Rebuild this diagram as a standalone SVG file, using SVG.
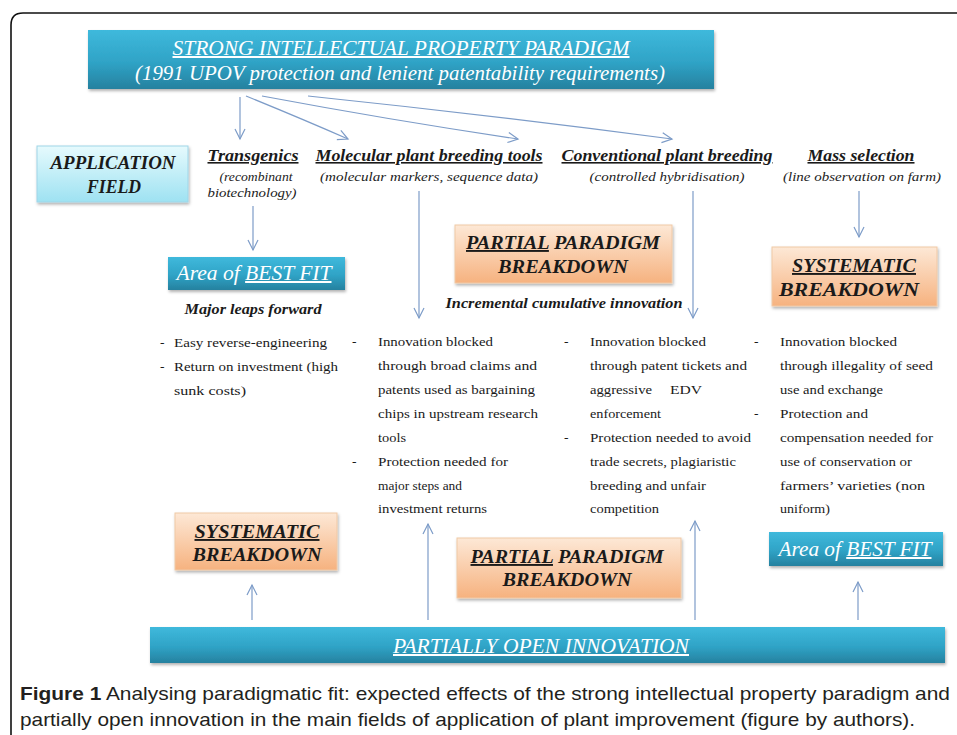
<svg xmlns="http://www.w3.org/2000/svg" width="957" height="735" viewBox="0 0 957 735">
<defs>
<linearGradient id="gBlue" x1="0" y1="0" x2="0" y2="1">
<stop offset="0" stop-color="#3fb9dc"/>
<stop offset="0.55" stop-color="#2fa3c6"/>
<stop offset="1" stop-color="#26819f"/>
</linearGradient>
<linearGradient id="gCyan" x1="0" y1="0" x2="0" y2="1">
<stop offset="0" stop-color="#e6fafd"/>
<stop offset="1" stop-color="#9ee2f2"/>
</linearGradient>
<linearGradient id="gOrange" x1="0" y1="0" x2="0" y2="1">
<stop offset="0" stop-color="#fde8d6"/>
<stop offset="1" stop-color="#f6b27f"/>
</linearGradient>
<filter id="sh" x="-5%" y="-10%" width="110%" height="130%">
<feDropShadow dx="1" dy="2" stdDeviation="1.5" flood-color="#000" flood-opacity="0.3"/>
</filter>
<marker id="ah" markerWidth="14" markerHeight="14" refX="12" refY="7" orient="auto" markerUnits="userSpaceOnUse">
<path d="M2,2 L12,7 L2,12" fill="none" stroke="#7d9cc8" stroke-width="1.2"/>
</marker>
<style>
.blue{fill:url(#gBlue);filter:url(#sh);}
.cyan{fill:url(#gCyan);stroke:#9fd6e8;stroke-width:1;filter:url(#sh);}
.orange{fill:url(#gOrange);stroke:#f0c9a6;stroke-width:1;filter:url(#sh);}
.wt{font-family:"Liberation Serif",serif;font-style:italic;fill:#fff;font-size:20px;}
.bh{font-family:"Liberation Serif",serif;font-style:italic;font-weight:bold;fill:#1a1a1a;}
.sub{font-family:"Liberation Serif",serif;font-style:italic;fill:#222;font-size:13px;}
.bd{font-family:"Liberation Serif",serif;fill:#1a1a1a;font-size:13.5px;}
.cap{font-family:"Liberation Sans",sans-serif;fill:#231f20;font-size:19px;}
.con{stroke:#7d9cc8;stroke-width:1.2;fill:none;}
</style>
</defs>
<rect width="957" height="735" fill="#fff"/>
<path d="M11,760 L11,25 Q11,13 23,13 L980,13" fill="none" stroke="#111" stroke-width="1.6"/>

<g id="connectors">
<line class="con" x1="240" y1="97" x2="240" y2="139" marker-end="url(#ah)"/>
<path class="con" d="M246,96 Q300,118 348,139" marker-end="url(#ah)"/>
<path class="con" d="M262,96 Q390,120 518,139" marker-end="url(#ah)"/>
<path class="con" d="M308,96 Q490,115 672,139" marker-end="url(#ah)"/>
<line class="con" x1="253" y1="206" x2="253" y2="250" marker-end="url(#ah)"/>
<line class="con" x1="419" y1="191" x2="419" y2="318" marker-end="url(#ah)"/>
<line class="con" x1="693" y1="191" x2="693" y2="318" marker-end="url(#ah)"/>
<line class="con" x1="859" y1="191" x2="859" y2="237" marker-end="url(#ah)"/>
<line class="con" x1="252" y1="620" x2="252" y2="585" marker-end="url(#ah)"/>
<line class="con" x1="428" y1="620" x2="428" y2="524" marker-end="url(#ah)"/>
<line class="con" x1="695" y1="620" x2="695" y2="521" marker-end="url(#ah)"/>
<line class="con" x1="858" y1="620" x2="858" y2="582" marker-end="url(#ah)"/>
</g>

<g id="strong-ip">
<rect class="blue" x="88" y="30" width="626" height="59"/>
<text class="wt" x="401" y="55" text-anchor="middle" text-decoration="underline" textLength="457" lengthAdjust="spacingAndGlyphs">STRONG INTELLECTUAL PROPERTY PARADIGM</text>
<text class="wt" x="400" y="80" text-anchor="middle" textLength="530" lengthAdjust="spacingAndGlyphs">(1991 UPOV  protection  and lenient patentability requirements)</text>
</g>

<g id="application-field">
<rect class="cyan" x="37" y="146" width="151" height="56"/>
<text class="bh" x="113" y="169" font-size="18" text-anchor="middle" textLength="125" lengthAdjust="spacingAndGlyphs">APPLICATION</text>
<text class="bh" x="114" y="193" font-size="18" text-anchor="middle" textLength="54" lengthAdjust="spacingAndGlyphs">FIELD</text>
</g>

<g id="transgenics">
<text class="bh" x="253" y="161" font-size="16" text-anchor="middle" text-decoration="underline" textLength="91" lengthAdjust="spacingAndGlyphs">Transgenics</text>
<text class="sub" x="256" y="181" text-anchor="middle" textLength="73" lengthAdjust="spacingAndGlyphs">(recombinant</text>
<text class="sub" x="252" y="197" text-anchor="middle" textLength="89" lengthAdjust="spacingAndGlyphs">biotechnology)</text>
</g>

<g id="molecular">
<text class="bh" x="429" y="161" font-size="16" text-anchor="middle" text-decoration="underline" textLength="227" lengthAdjust="spacingAndGlyphs">Molecular plant breeding tools</text>
<text class="sub" x="429" y="181" text-anchor="middle" textLength="218" lengthAdjust="spacingAndGlyphs">(molecular markers, sequence data)</text>
</g>

<g id="conventional">
<text class="bh" x="667" y="161" font-size="16" text-anchor="middle" text-decoration="underline" textLength="211" lengthAdjust="spacingAndGlyphs">Conventional plant breeding</text>
<text class="sub" x="667" y="181" text-anchor="middle" textLength="155" lengthAdjust="spacingAndGlyphs">(controlled  hybridisation)</text>
</g>

<g id="mass-selection">
<text class="bh" x="861" y="161" font-size="16" text-anchor="middle" text-decoration="underline" textLength="107" lengthAdjust="spacingAndGlyphs">Mass selection</text>
<text class="sub" x="862" y="181" text-anchor="middle" textLength="158" lengthAdjust="spacingAndGlyphs">(line observation on farm)</text>
</g>

<g id="best-fit-top">
<rect class="blue" x="168" y="257" width="177" height="33"/>
<text class="wt" x="254" y="280" font-size="21" text-anchor="middle" textLength="155" lengthAdjust="spacingAndGlyphs">Area of <tspan text-decoration="underline">BEST FIT</tspan></text>
<text class="bh" x="253" y="314" font-size="15" text-anchor="middle" textLength="137" lengthAdjust="spacingAndGlyphs">Major leaps forward</text>
</g>

<g id="partial-top">
<rect class="orange" x="455" y="225" width="217" height="58"/>
<text class="bh" x="563" y="249" font-size="19" text-anchor="middle" textLength="194" lengthAdjust="spacingAndGlyphs"><tspan text-decoration="underline">PARTIAL</tspan> PARADIGM</text>
<text class="bh" x="563" y="273" font-size="19" text-anchor="middle" textLength="130" lengthAdjust="spacingAndGlyphs">BREAKDOWN</text>
<text class="bh" x="564" y="308" font-size="15" text-anchor="middle" textLength="237" lengthAdjust="spacingAndGlyphs">Incremental cumulative innovation</text>
</g>

<g id="systematic-top">
<rect class="orange" x="772" y="247" width="165" height="59"/>
<text class="bh" x="854" y="272" font-size="19" text-anchor="middle" text-decoration="underline" textLength="124" lengthAdjust="spacingAndGlyphs">SYSTEMATIC</text>
<text class="bh" x="849" y="296" font-size="19" text-anchor="middle" textLength="140" lengthAdjust="spacingAndGlyphs">BREAKDOWN</text>
</g>

<g id="col1">
<text class="bd" x="160" y="347">-</text>
<text class="bd" x="174" y="347" textLength="153" lengthAdjust="spacingAndGlyphs">Easy reverse-engineering</text>
<text class="bd" x="160" y="371">-</text>
<text class="bd" x="174" y="371" textLength="164" lengthAdjust="spacingAndGlyphs">Return on investment (high</text>
<text class="bd" x="174" y="395" textLength="72" lengthAdjust="spacingAndGlyphs">sunk costs)</text>
</g>

<g id="col2">
<text class="bd" x="352" y="346">-</text>
<text class="bd" x="378" y="346" textLength="115" lengthAdjust="spacingAndGlyphs">Innovation  blocked</text>
<text class="bd" x="378" y="370" textLength="159" lengthAdjust="spacingAndGlyphs">through   broad claims  and</text>
<text class="bd" x="378" y="394" textLength="157" lengthAdjust="spacingAndGlyphs">patents used as bargaining</text>
<text class="bd" x="378" y="418" textLength="160" lengthAdjust="spacingAndGlyphs">chips in upstream research</text>
<text class="bd" x="378" y="442" textLength="28" lengthAdjust="spacingAndGlyphs">tools</text>
<text class="bd" x="352" y="466">-</text>
<text class="bd" x="378" y="466" textLength="130" lengthAdjust="spacingAndGlyphs">Protection  needed for</text>
<text class="bd" x="378" y="490" textLength="84" lengthAdjust="spacingAndGlyphs">major steps and</text>
<text class="bd" x="378" y="513" textLength="109" lengthAdjust="spacingAndGlyphs">investment  returns</text>
</g>

<g id="col3">
<text class="bd" x="564" y="346">-</text>
<text class="bd" x="590" y="346" textLength="116" lengthAdjust="spacingAndGlyphs">Innovation  blocked</text>
<text class="bd" x="590" y="370" textLength="157" lengthAdjust="spacingAndGlyphs">through  patent tickets and</text>
<text class="bd" x="590" y="394" textLength="62" lengthAdjust="spacingAndGlyphs">aggressive</text>
<text class="bd" x="670" y="394" textLength="32" lengthAdjust="spacingAndGlyphs">EDV</text>
<text class="bd" x="590" y="418" textLength="71" lengthAdjust="spacingAndGlyphs">enforcement</text>
<text class="bd" x="564" y="442">-</text>
<text class="bd" x="590" y="442" textLength="161" lengthAdjust="spacingAndGlyphs">Protection  needed to avoid</text>
<text class="bd" x="590" y="466" textLength="146" lengthAdjust="spacingAndGlyphs">trade secrets, plagiaristic</text>
<text class="bd" x="590" y="490" textLength="116" lengthAdjust="spacingAndGlyphs">breeding  and unfair</text>
<text class="bd" x="590" y="513" textLength="69" lengthAdjust="spacingAndGlyphs">competition</text>
</g>

<g id="col4">
<text class="bd" x="754" y="346">-</text>
<text class="bd" x="780" y="346" textLength="117" lengthAdjust="spacingAndGlyphs">Innovation  blocked</text>
<text class="bd" x="780" y="370" textLength="153" lengthAdjust="spacingAndGlyphs">through  illegality  of seed</text>
<text class="bd" x="780" y="394" textLength="103" lengthAdjust="spacingAndGlyphs">use and exchange</text>
<text class="bd" x="754" y="418">-</text>
<text class="bd" x="780" y="418" textLength="88" lengthAdjust="spacingAndGlyphs">Protection  and</text>
<text class="bd" x="780" y="442" textLength="153" lengthAdjust="spacingAndGlyphs">compensation  needed for</text>
<text class="bd" x="780" y="466" textLength="132" lengthAdjust="spacingAndGlyphs">use of conservation  or</text>
<text class="bd" x="780" y="490" textLength="145" lengthAdjust="spacingAndGlyphs">farmers’  varieties  (non</text>
<text class="bd" x="780" y="513" textLength="50" lengthAdjust="spacingAndGlyphs">uniform)</text>
</g>

<g id="systematic-bottom">
<rect class="orange" x="175" y="513" width="162" height="57"/>
<text class="bh" x="257" y="538" font-size="19" text-anchor="middle" text-decoration="underline" textLength="125" lengthAdjust="spacingAndGlyphs">SYSTEMATIC</text>
<text class="bh" x="257" y="561" font-size="19" text-anchor="middle" textLength="129" lengthAdjust="spacingAndGlyphs">BREAKDOWN</text>
</g>

<g id="partial-bottom">
<rect class="orange" x="457" y="538" width="224" height="60"/>
<text class="bh" x="567" y="563" font-size="19" text-anchor="middle" textLength="193" lengthAdjust="spacingAndGlyphs"><tspan text-decoration="underline">PARTIAL</tspan> PARADIGM</text>
<text class="bh" x="567" y="586" font-size="19" text-anchor="middle" textLength="129" lengthAdjust="spacingAndGlyphs">BREAKDOWN</text>
</g>

<g id="best-fit-bottom">
<rect class="blue" x="769" y="532" width="174" height="34"/>
<text class="wt" x="855" y="556" font-size="21" text-anchor="middle" textLength="153" lengthAdjust="spacingAndGlyphs">Area of <tspan text-decoration="underline">BEST FIT</tspan></text>
</g>

<g id="partially-open">
<rect class="blue" x="150" y="627" width="795" height="36"/>
<text class="wt" x="541" y="653" text-anchor="middle" text-decoration="underline" textLength="296" lengthAdjust="spacingAndGlyphs">PARTIALLY OPEN INNOVATION</text>
</g>

<g id="caption">
<text class="cap" x="20" y="700" textLength="930" lengthAdjust="spacingAndGlyphs"><tspan font-weight="bold">Figure 1</tspan> Analysing paradigmatic fit: expected effects of the strong intellectual property paradigm and</text>
<text class="cap" x="20" y="726" textLength="895" lengthAdjust="spacingAndGlyphs">partially open innovation in the main fields of application of plant improvement (figure by authors).</text>
</g>
</svg>
